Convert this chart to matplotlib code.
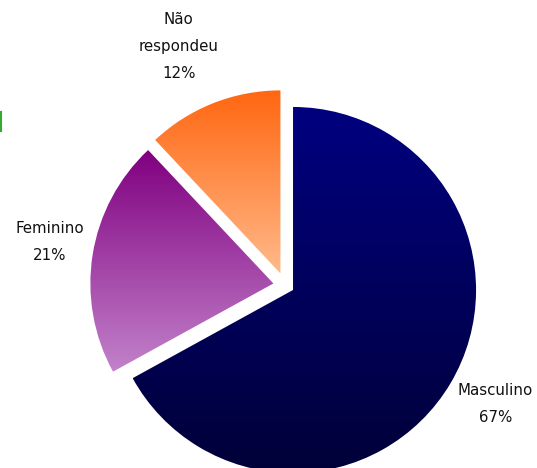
import numpy as np
import matplotlib
matplotlib.use("Agg")
import matplotlib.pyplot as plt
from matplotlib.colors import LinearSegmentedColormap
from matplotlib.lines import Line2D

# data
categorias = ["Masculino", "Feminino", "Não\nrespondeu"]
percentuais = [67, 21, 12]
explode = [0.05, 0.065, 0.07]

# label placement: distance from centre (in radii) and angle (degrees)
label_dist = [1.32, 1.31, 1.43]
label_ang = [-29.5, 169.5, 114.0]

# vertical gradient (top colour, bottom colour) for each slice
gradientes = [("#000080", "#000038"),
              ("#800080", "#c282ca"),
              ("#ff6610", "#ffb98a")]

fig = plt.figure(figsize=(5.37, 4.68), dpi=100)
ax = fig.add_axes([0, 0, 1, 1])
ax.axis("off")

wedges, _ = ax.pie(percentuais, explode=explode, startangle=90, counterclock=False,
                   radius=1.0, center=(0, 0), frame=False,
                   wedgeprops=dict(linewidth=0, facecolor="none"))

grad = np.linspace(0, 1, 256).reshape(-1, 1)
for w, (top, bottom) in zip(wedges, gradientes):
    cmap = LinearSegmentedColormap.from_list("g", [top, bottom])
    # gradient spans only the slice's own vertical extent
    pts = w.get_patch_transform().transform(w.get_path().vertices)
    y0, y1 = pts[:, 1].min(), pts[:, 1].max()
    x0, x1 = pts[:, 0].min(), pts[:, 0].max()
    im = ax.imshow(grad, cmap=cmap, extent=(x0, x1, y0, y1), origin="upper",
                   aspect="auto", zorder=1, interpolation="bilinear")
    im.set_clip_path(w)

for nome, p, d, a in zip(categorias, percentuais, label_dist, label_ang):
    ang = np.deg2rad(a)
    ax.text(d * np.cos(ang), d * np.sin(ang), f"{nome}\n{p}%", ha="center", va="center",
            fontsize=10.8, color="#111111", linespacing=2.0)

ax.set_xlim(-1.558, 1.376)
ax.set_ylim(-0.998, 1.559)
ax.set_aspect("equal")

# small green mark on the left edge
fig.add_artist(Line2D([0.002, 0.002], [1 - 112 / 468, 1 - 131 / 468],
                      transform=fig.transFigure, color="#33aa33", linewidth=1.5))

fig.savefig("out.png", dpi=100)
